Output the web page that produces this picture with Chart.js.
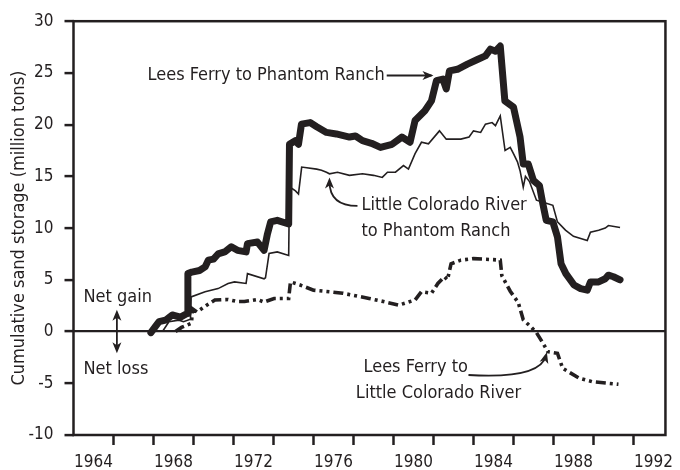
<!DOCTYPE html>
<html lang="en">
<head>
  <meta charset="UTF-8" />
  <title>Cumulative sand storage</title>
  <script src="https://cdn.jsdelivr.net/npm/chart.js"></script>
  <style>
    body {
      margin: 0;
      background: #ffffff;
    }
    #chart {
      display: block;
    }
  </style>
</head>
<body>
  <canvas id="chart" width="680" height="470"></canvas>

  <script>
    // Lees Ferry to Phantom Ranch (thick line)
    const lfprYears = [1966.87, 1967.1, 1967.28, 1967.6, 1967.94, 1968.35, 1968.68, 1968.72, 1968.92, 1969.3,
      1969.58, 1969.74, 1970.0, 1970.23, 1970.56, 1970.89, 1971.2, 1971.63, 1971.7, 1972.2,
      1972.53, 1972.7, 1972.86, 1973.19, 1973.76, 1973.8, 1974.09, 1974.25, 1974.4, 1974.83,
      1975.16, 1975.65, 1976.14, 1976.8, 1977.1, 1977.45, 1977.9, 1978.35, 1978.93, 1979.42,
      1979.83, 1980.08, 1980.57, 1980.9, 1981.15, 1981.47, 1981.64, 1981.8, 1982.2, 1982.7,
      1983.2, 1983.6, 1983.85, 1984.1, 1984.34, 1984.57, 1985.0, 1985.33, 1985.49, 1985.74,
      1986.0, 1986.3, 1986.47, 1986.64, 1986.97, 1987.2, 1987.38, 1987.62, 1988.03, 1988.36,
      1988.69, 1988.85, 1989.26, 1989.59, 1989.75, 1990.0, 1990.33];
    const lfprValues = [-0.1, 0.5, 0.95, 1.1, 1.6, 1.4, 1.75, 5.6, 5.75, 5.9,
      6.25, 6.9, 7.0, 7.5, 7.7, 8.2, 7.85, 7.7, 8.5, 8.65,
      7.85, 9.45, 10.6, 10.75, 10.4, 18.1, 18.45, 18.1, 20.05, 20.2,
      19.8, 19.25, 19.1, 18.8, 18.9, 18.45, 18.2, 17.8, 18.1, 18.8,
      18.3, 20.4, 21.35, 22.3, 24.25, 24.4, 23.45, 25.2, 25.35, 25.85,
      26.3, 26.65, 27.3, 27.1, 27.6, 22.3, 21.7, 18.8, 16.2, 16.2,
      14.6, 14.1, 12.35, 10.75, 10.6, 9.15, 6.55, 5.6, 4.5, 4.15,
      4.0, 4.8, 4.8, 5.1, 5.45, 5.3, 5.0];

    // Little Colorado River to Phantom Ranch (thin line)
    const lcprYears = [1967.45, 1967.77, 1968.27, 1968.5, 1968.85, 1968.88, 1969.58, 1970.23, 1970.73, 1971.05,
      1971.63, 1971.7, 1972.53, 1972.6, 1972.78, 1973.19, 1973.76, 1973.8, 1974.1, 1974.25,
      1974.41, 1975.16, 1975.4, 1975.65, 1975.8, 1976.2, 1976.8, 1977.45, 1978.0, 1978.44,
      1978.7, 1979.1, 1979.5, 1979.75, 1980.08, 1980.4, 1980.75, 1981.3, 1981.64, 1982.37,
      1982.78, 1983.0, 1983.36, 1983.6, 1983.93, 1984.1, 1984.34, 1984.58, 1984.84, 1985.0,
      1985.2, 1985.33, 1985.49, 1985.6, 1985.8, 1986.15, 1986.64, 1986.97, 1987.2, 1987.6,
      1988.0, 1988.69, 1988.85, 1989.26, 1989.59, 1989.75, 1990.33];
    const lcprValues = [0.0, 0.95, 1.1, 0.95, 1.2, 3.35, 3.85, 4.15, 4.65, 4.8,
      4.65, 5.6, 5.1, 5.2, 7.55, 7.7, 7.35, 14.0, 13.6, 13.3,
      15.9, 15.7, 15.6, 15.4, 15.25, 15.4, 15.1, 15.25, 15.1, 14.9,
      15.4, 15.4, 16.05, 15.7, 17.2, 18.3, 18.15, 19.4, 18.6, 18.6,
      18.8, 19.4, 19.25, 20.05, 20.2, 19.9, 20.85, 17.5, 17.8, 17.2,
      16.4, 15.55, 13.95, 15.0, 14.5, 12.7, 12.4, 12.2, 10.6, 9.8,
      9.2, 8.8, 9.6, 9.8, 10.0, 10.25, 10.05];

    // Lees Ferry to Little Colorado River (dash-dot-dot line)
    const lflcYears = [1968.1, 1968.4, 1968.9, 1968.95, 1969.17, 1969.4, 1969.66, 1970.07, 1970.73, 1971.2,
      1971.55, 1972.2, 1972.53, 1973.03, 1973.76, 1973.85, 1974.33, 1975.0, 1975.8, 1976.47,
      1977.78, 1978.5, 1979.26, 1980.08, 1980.4, 1980.9, 1981.22, 1981.55, 1981.7, 1981.88,
      1982.37, 1983.0, 1983.99, 1984.34, 1984.42, 1984.84, 1985.24, 1985.49, 1985.9, 1986.15,
      1986.47, 1986.72, 1987.2, 1987.46, 1988.28, 1988.94, 1990.25];
    const lflcValues = [0.0, 0.4, 0.8, 2.2, 1.9, 2.2, 2.55, 3.05, 3.1, 2.9,
      2.9, 3.1, 2.85, 3.2, 3.2, 4.8, 4.5, 4.0, 3.85, 3.7,
      3.2, 2.9, 2.55, 3.05, 3.85, 3.7, 4.65, 5.3, 5.0, 6.55,
      6.9, 7.05, 6.95, 6.9, 5.4, 3.9, 2.8, 1.15, 0.4, -0.1,
      -1.1, -1.95, -2.1, -3.55, -4.5, -4.85, -5.1];

    const xTickYears = [1964, 1965, 1966, 1967, 1968, 1969, 1970, 1971, 1972, 1973, 1974, 1975, 1976, 1977,
      1978, 1979, 1980, 1981, 1982, 1983, 1984, 1985, 1986, 1987, 1988, 1989, 1990, 1991, 1992];
    const yTickValues = [-10, -5, 0, 5, 10, 15, 20, 25, 30];

    const INK = '#231f20';
    const FONT = "'Liberation Sans Narrow', 'DejaVu Sans Condensed', 'Arial Narrow', sans-serif";

    function toPoints(xs, ys) {
      return xs.map((x, i) => ({ x: x, y: ys[i] }));
    }

    // arrowhead at (x, y) pointing along angle
    function arrowHead(ctx, x, y, angle) {
      const len = 11, half = 4.5;
      ctx.save();
      ctx.translate(x, y);
      ctx.rotate(angle);
      ctx.beginPath();
      ctx.moveTo(0, 0);
      ctx.lineTo(-len, -half);
      ctx.lineTo(-len + 3, 0);
      ctx.lineTo(-len, half);
      ctx.closePath();
      ctx.fill();
      ctx.restore();
    }

    const frameAndNotes = {
      id: 'frameAndNotes',
      afterDraw(chart) {
        const { ctx, chartArea: a, scales } = chart;
        const px = v => scales.x.getPixelForValue(v);
        const py = v => scales.y.getPixelForValue(v);

        ctx.save();
        ctx.strokeStyle = INK;
        ctx.fillStyle = INK;
        ctx.lineWidth = 2.5;
        ctx.strokeRect(a.left, a.top, a.right - a.left, a.bottom - a.top);

        ctx.font = '18px ' + FONT;
        ctx.textBaseline = 'middle';
        ctx.textAlign = 'left';

        // Lees Ferry to Phantom Ranch, arrow starts where the text ends
        const t1 = 'Lees Ferry to Phantom Ranch';
        ctx.fillText(t1, px(1966.7), py(24.8));
        const lineStart = px(1966.7) + ctx.measureText(t1).width + 2;
        ctx.lineWidth = 1.8;
        ctx.beginPath();
        ctx.moveTo(lineStart, py(24.75));
        ctx.lineTo(px(1980.9), py(24.75));
        ctx.stroke();
        arrowHead(ctx, px(1981.0), py(24.75), 0);

        // Little Colorado River to Phantom Ranch
        ctx.fillText('Little Colorado River', px(1977.4), py(12.2));
        ctx.fillText('to Phantom Ranch', px(1977.4), py(9.7));
        let sx = px(1977.2), sy = py(12.15), cx = px(1975.8), cy = py(12.15), tx = px(1975.8), ty = py(14.9);
        ctx.beginPath();
        ctx.moveTo(sx, sy);
        ctx.quadraticCurveTo(cx, cy, tx, ty + 4);
        ctx.stroke();
        arrowHead(ctx, tx, ty, -Math.PI / 2);

        // Lees Ferry to Little Colorado River
        ctx.fillText('Lees Ferry to', px(1977.5), py(-3.42));
        ctx.fillText('Little Colorado River', px(1977.12), py(-5.93));
        sx = px(1982.75); sy = py(-4.2); cx = px(1986.3); cy = py(-4.6); tx = px(1986.67); ty = py(-2.0);
        ctx.beginPath();
        ctx.moveTo(sx, sy);
        ctx.quadraticCurveTo(cx, cy, tx - 1, ty + 4);
        ctx.stroke();
        arrowHead(ctx, tx, ty, Math.atan2(ty - cy, tx - cx));

        // Net gain / Net loss
        ctx.fillText('Net gain', px(1963.5), py(3.33));
        ctx.fillText('Net loss', px(1963.5), py(-3.7));
        const ax = px(1965.17);
        ctx.beginPath();
        ctx.moveTo(ax, py(1.7));
        ctx.lineTo(ax, py(-1.7));
        ctx.stroke();
        arrowHead(ctx, ax, py(2.1), -Math.PI / 2);
        arrowHead(ctx, ax, py(-2.1), Math.PI / 2);
        ctx.restore();
      }
    };

    new Chart(document.getElementById('chart'), {
      type: 'line',
      data: {
        datasets: [
          {
            label: 'Lees Ferry to Phantom Ranch',
            data: toPoints(lfprYears, lfprValues),
            borderColor: INK,
            borderWidth: 7,
            borderJoinStyle: 'round',
            borderCapStyle: 'round',
            pointRadius: 0
          },
          {
            label: 'Little Colorado River to Phantom Ranch',
            data: toPoints(lcprYears, lcprValues),
            borderColor: INK,
            borderWidth: 1.6,
            pointRadius: 0
          },
          {
            label: 'Lees Ferry to Little Colorado River',
            data: toPoints(lflcYears, lflcValues),
            borderColor: INK,
            borderWidth: 3.6,
            borderDash: [10, 4, 3, 4, 3, 4],
            pointRadius: 0
          }
        ]
      },
      options: {
        responsive: false,
        animation: false,
        layout: { padding: { top: 20, right: 5, left: 0, bottom: 0 } },
        plugins: {
          legend: { display: false },
          tooltip: { enabled: false }
        },
        scales: {
          x: {
            type: 'linear',
            min: 1963,
            max: 1992.6,
            afterBuildTicks: axis => { axis.ticks = xTickYears.map(v => ({ value: v })); },
            afterFit: axis => { axis.height = 35; },
            border: { display: false },
            grid: {
              drawOnChartArea: false,
              tickLength: 10,
              tickWidth: 2.5,
              tickColor: c => (c.tick && Math.round(c.tick.value) % 2 === 1) ? INK : 'rgba(0,0,0,0)'
            },
            ticks: {
              autoSkip: false,
              maxRotation: 0,
              padding: 7,
              color: INK,
              font: { family: FONT, size: 17 },
              callback: v => (Math.round(v) % 4 === 0) ? String(Math.round(v)) : ''
            }
          },
          y: {
            min: -10,
            max: 30,
            afterBuildTicks: axis => { axis.ticks = yTickValues.map(v => ({ value: v })); },
            afterFit: axis => { axis.width = 73.5; },
            border: { display: false },
            grid: {
              color: c => (c.tick && c.tick.value === 0) ? INK : 'rgba(0,0,0,0)',
              lineWidth: 2.2,
              tickLength: 9,
              tickWidth: 2.5,
              tickColor: INK
            },
            ticks: {
              padding: 11,
              color: INK,
              font: { family: FONT, size: 17 }
            },
            title: {
              display: true,
              text: 'Cumulative sand storage (million tons)',
              color: INK,
              font: { family: FONT, size: 18 },
              padding: { top: 9, bottom: 0 }
            }
          }
        }
      },
      plugins: [frameAndNotes]
    });
  </script>
</body>
</html>
